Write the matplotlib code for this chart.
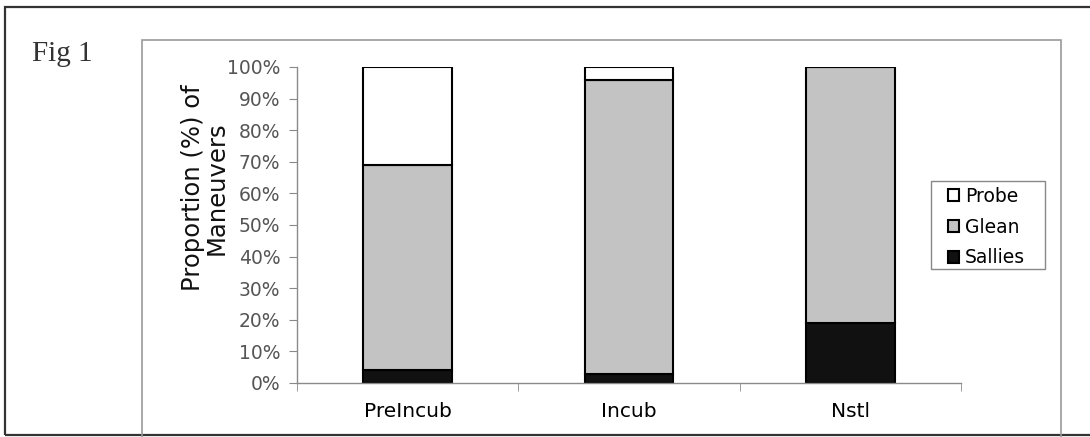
import matplotlib
matplotlib.use("Agg")
import matplotlib.pyplot as plt
from matplotlib.patches import Rectangle
from matplotlib.ticker import FixedLocator

categories = ["PreIncub", "Incub", "Nstl"]
sallies = [4, 3, 19]
glean = [65, 93, 81]
probe = [31, 4, 0]
yticks = [0, 10, 20, 30, 40, 50, 60, 70, 80, 90, 100]
ytick_labels = [f"{v}%" for v in yticks]

W, H = 1090, 437
fig = plt.figure(figsize=(W / 100, H / 100), dpi=100)
fig.patch.set_facecolor("white")

def fx(px):
    return px / W

def fy(py):
    return 1 - py / H

# outer frame
fig.add_artist(Rectangle((fx(5), fy(435)), fx(1100) - fx(5), fy(7) - fy(435),
                         transform=fig.transFigure, fill=False, zorder=-2,
                         edgecolor="#333333", linewidth=1.6, clip_on=False))
# inner chart frame
fig.add_artist(Rectangle((fx(142), fy(445)), fx(1061) - fx(142), fy(40) - fy(445),
                         transform=fig.transFigure, fill=False, zorder=-2,
                         edgecolor="#9a9a9a", linewidth=1.2, clip_on=False))
# legend frame
fig.add_artist(Rectangle((fx(931), fy(269)), fx(1045) - fx(931), fy(181) - fy(269),
                         transform=fig.transFigure, fill=False, zorder=-2,
                         edgecolor="#888888", linewidth=1.0, clip_on=False))

fig.text(fx(32), fy(61), "Fig 1", family="Liberation Serif", fontsize=21,
         color="#333333", ha="left", va="baseline")

ax = fig.add_axes([fx(297), fy(383), fx(961) - fx(297), fy(67) - fy(383)])
ax.set_facecolor("none")
x = list(range(len(categories)))
bw = 0.4
bot2 = [a + b for a, b in zip(sallies, glean)]
h1 = ax.bar(x, sallies, bw, color="#111111", edgecolor="black", linewidth=1.5, label="Sallies")
h2 = ax.bar(x, glean, bw, bottom=sallies, color="#c3c3c3", edgecolor="black", linewidth=1.5, label="Glean")
h3 = ax.bar(x, probe, bw, bottom=bot2, color="white", edgecolor="black", linewidth=1.5, label="Probe")

ax.set_xlim(-0.5, len(categories) - 0.5)
ax.set_ylim(0, 100)
for s in ["top", "right"]:
    ax.spines[s].set_visible(False)
for s in ["left", "bottom"]:
    ax.spines[s].set_color("#8a8a8a")
    ax.spines[s].set_linewidth(1.0)

ax.set_yticks(yticks)
ax.set_yticklabels(ytick_labels, family="DejaVu Sans", fontsize=13.5, color="#555555")
ax.tick_params(axis="y", direction="out", length=6, color="#8a8a8a", pad=6)

ax.set_xticks(x)
ax.set_xticklabels(categories, family="DejaVu Sans", fontsize=14.5, color="#000000")
ax.tick_params(axis="x", which="major", length=0, pad=14)
ax.xaxis.set_minor_locator(FixedLocator([-0.5, 0.5, 1.5, 2.5]))
ax.tick_params(axis="x", which="minor", direction="out", length=6, color="#8a8a8a")

fig.text(fx(205), fy(188), "Proportion (%) of\nManeuvers", rotation=90,
         family="DejaVu Sans", fontsize=17.5, color="#111111",
         ha="center", va="center", multialignment="center", linespacing=1.0)

leg = ax.legend([h3, h2, h1], ["Probe", "Glean", "Sallies"],
                loc="upper left", bbox_to_anchor=(fx(948), fy(187)),
                bbox_transform=fig.transFigure, frameon=False,
                prop={"family": "DejaVu Sans", "size": 13.5},
                handlelength=0.6, handleheight=0.6, handletextpad=0.3,
                labelspacing=0.62, borderpad=0, borderaxespad=0)

fig.savefig("out.png", dpi=100)
